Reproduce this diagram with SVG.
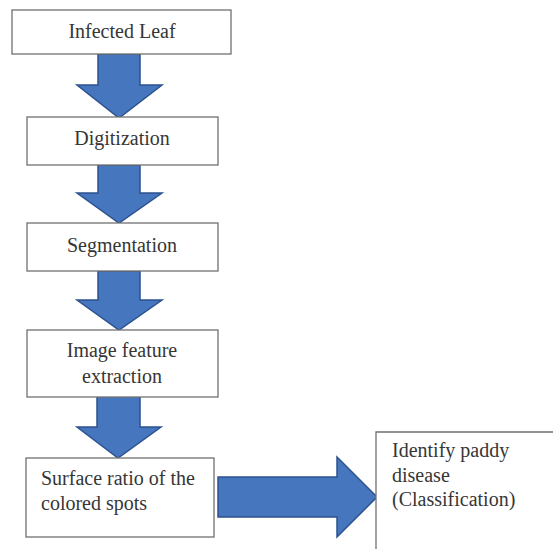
<svg xmlns="http://www.w3.org/2000/svg" width="553" height="549" viewBox="0 0 553 549">
<style>
.box{fill:#ffffff;stroke:#707070;stroke-width:1.3}
.arr{fill:#4677be;stroke:#2c5290;stroke-width:1.5;stroke-linejoin:miter}
text{font-family:"Liberation Serif","DejaVu Serif",serif;font-size:20px;fill:#363636}
.c{text-anchor:middle}
</style>
<rect width="553" height="549" fill="#ffffff"/>
<g id="connectors">
<polygon class="arr" points="98,54 140,54 140,85 162,85 119,118 77,85 98,85"/>
<polygon class="arr" points="98,165 140,165 140,193 162,193 119,223 77,193 98,193"/>
<polygon class="arr" points="98,271 140,271 140,300 162,300 119,330 77,300 98,300"/>
<polygon class="arr" points="97,396 140,396 140,427 161,427 118,458 77,427 97,427"/>
<polygon class="arr" points="218,477 337,477 337,457 377,497 337,537 337,517 218,517"/>
</g>
<g id="n1"><rect class="box" x="12" y="10" width="219" height="44"/><text class="c" x="122" y="38">Infected Leaf</text></g>
<g id="n2"><rect class="box" x="27" y="117" width="191" height="48"/><text class="c" x="122" y="145">Digitization</text></g>
<g id="n3"><rect class="box" x="27" y="223" width="191" height="48"/><text class="c" x="122" y="252">Segmentation</text></g>
<g id="n4"><rect class="box" x="27" y="330" width="191" height="67"/><text class="c" x="122" y="357">Image  feature</text><text class="c" x="122" y="383">extraction</text></g>
<g id="n5"><rect class="box" x="26" y="458" width="188" height="79"/><text x="41" y="485">Surface ratio of the</text><text x="41" y="510">colored spots</text></g>
<g id="n6"><polyline class="box" fill="none" points="376,549 376,432 553,432"/><text x="392" y="457">Identify paddy</text><text x="392" y="482">disease</text><text x="392" y="506">(Classification)</text></g>
</svg>
